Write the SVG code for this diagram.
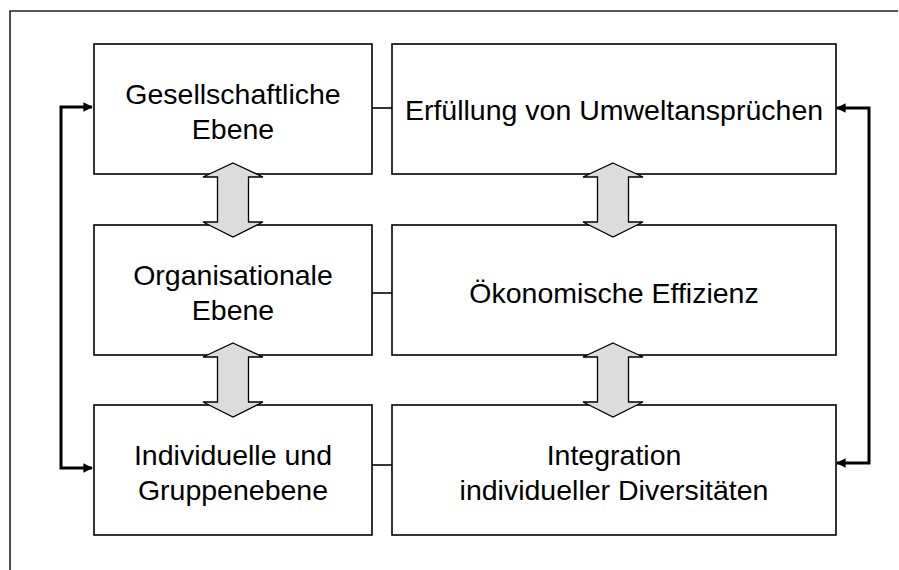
<svg xmlns="http://www.w3.org/2000/svg" width="899" height="570" viewBox="0 0 899 570">
  <defs>
    <style>
      .box { fill: #ffffff; stroke: #000000; stroke-width: 1.6; }
      .lbl { font-family: "Liberation Sans", Arial, sans-serif; font-size: 28.5px; fill: #000000; text-anchor: middle; }
      .stub { stroke: #000000; stroke-width: 1.6; fill: none; }
      .loop { stroke: #000000; stroke-width: 3; fill: none; }
      .dbl { fill: #dcdcdc; stroke: #000000; stroke-width: 1.3; stroke-linejoin: miter; }
    </style>
    <marker id="head" viewBox="0 0 10 10" refX="9" refY="5" markerWidth="3.6" markerHeight="3.2" orient="auto-start-reverse" markerUnits="strokeWidth">
      <path d="M0,0 L10,5 L0,10 z" fill="#000000"/>
    </marker>
    <!-- vertical double-headed block arrow, centred on x=0, spanning y=0..74 -->
    <path id="dblArrow" class="dbl" d="M0,0 L30,14 L15.5,14 L15.5,59 L30,59 L0,74 L-30,59 L-15.5,59 L-15.5,14 L-30,14 Z"/>
  </defs>

  <rect width="899" height="570" fill="#ffffff"/>

  <!-- outer frame (top and left edges) -->
  <path d="M898,11 H10 V570" fill="none" stroke="#222222" stroke-width="1.6"/>

  <g id="gesellschaftlich">
    <rect class="box" x="94" y="44" width="278" height="130"/>
    <text class="lbl" x="233" y="104">Gesellschaftliche</text>
    <text class="lbl" x="233" y="139">Ebene</text>
  </g>
  <g id="umwelt">
    <rect class="box" x="392" y="44" width="444" height="130"/>
    <text class="lbl" x="614" y="120">Erfüllung von Umweltansprüchen</text>
  </g>
  <g id="organisational">
    <rect class="box" x="94" y="225" width="278" height="130"/>
    <text class="lbl" x="233" y="285">Organisationale</text>
    <text class="lbl" x="233" y="320">Ebene</text>
  </g>
  <g id="oekonomisch">
    <rect class="box" x="392" y="225" width="444" height="130"/>
    <text class="lbl" x="614" y="303">Ökonomische Effizienz</text>
  </g>
  <g id="individuell">
    <rect class="box" x="94" y="405" width="278" height="130"/>
    <text class="lbl" x="233" y="465">Individuelle und</text>
    <text class="lbl" x="233" y="500">Gruppenebene</text>
  </g>
  <g id="integration">
    <rect class="box" x="392" y="405" width="444" height="130"/>
    <text class="lbl" x="614" y="465">Integration</text>
    <text class="lbl" x="614" y="500">individueller Diversitäten</text>
  </g>

  <g id="connectors">
    <!-- short links between the two columns -->
    <line class="stub" x1="372" y1="108" x2="392" y2="108"/>
    <line class="stub" x1="372" y1="293" x2="392" y2="293"/>
    <line class="stub" x1="372" y1="465" x2="392" y2="465"/>
    <!-- feedback loops -->
    <path class="loop" d="M92,107 H61 V468 H92" marker-start="url(#head)" marker-end="url(#head)"/>
    <path class="loop" d="M837,108 H869 V463 H837" marker-start="url(#head)" marker-end="url(#head)"/>
    <!-- vertical double arrows -->
    <use href="#dblArrow" x="233" y="163"/>
    <use href="#dblArrow" x="233" y="343"/>
    <use href="#dblArrow" x="613" y="163"/>
    <use href="#dblArrow" x="613" y="343"/>
  </g>
</svg>
